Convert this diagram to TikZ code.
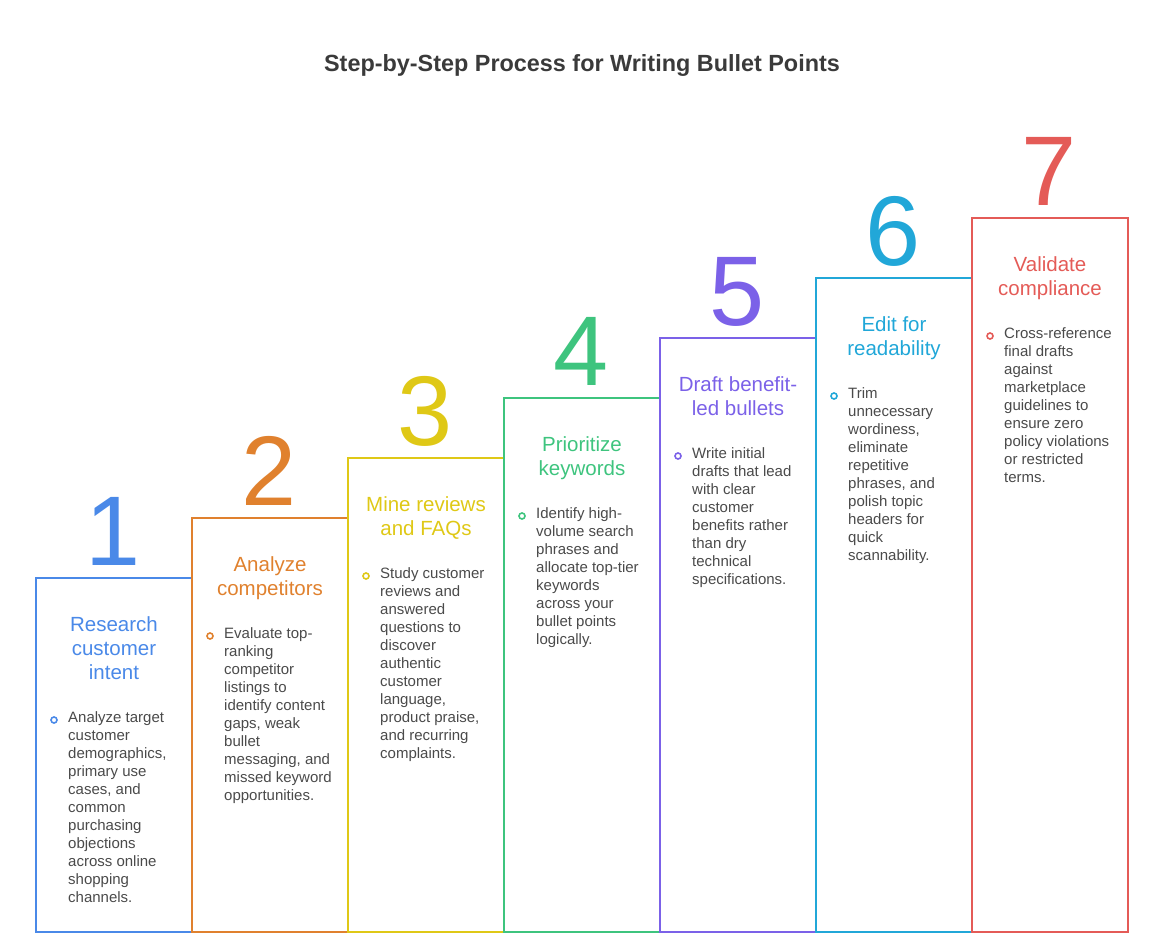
\documentclass[tikz,border=0pt]{standalone}
\usepackage{fontspec}
\setmainfont{Liberation Sans}
\definecolor{stepblue}{HTML}{4A89E8}
\definecolor{steporange}{HTML}{E0812E}
\definecolor{stepyellow}{HTML}{DFC816}
\definecolor{stepgreen}{HTML}{3EC47E}
\definecolor{steppurple}{HTML}{7B61E8}
\definecolor{stepcyan}{HTML}{21A7D8}
\definecolor{stepred}{HTML}{E45B57}
\definecolor{bodygray}{HTML}{4A4A4A}
\definecolor{titlegray}{HTML}{3A3A3A}
\begin{document}
\begin{tikzpicture}[x=1pt, y=-1pt,
    stepbox/.style={line width=2pt},
    stepnum/.style={anchor=base, inner sep=0pt, font=\fontsize{99}{99}\selectfont},
    stephead/.style={anchor=north, inner sep=0pt, align=center, font=\fontsize{20.5}{24}\selectfont},
    stepbody/.style={anchor=north west, inner sep=0pt, align=left, text=bodygray, font=\fontsize{15}{18}\selectfont},
    stepdot/.style={circle, draw, line width=1.6pt, minimum size=6pt, inner sep=0pt}]
\useasboundingbox (0,0) rectangle (1164,952);
\node[anchor=base, inner sep=0pt, text=titlegray, font=\fontsize{23.4}{28}\selectfont\bfseries] (title) at (582,72) {Step-by-Step Process for Writing Bullet Points};
% boxes and big numbers
\foreach \k/\col in {1/stepblue, 2/steporange, 3/stepyellow, 4/stepgreen, 5/steppurple, 6/stepcyan, 7/stepred} {
    \pgfmathsetmacro\bx{36+156*(\k-1)}
    \pgfmathsetmacro\by{578-60*(\k-1)}
    \draw[stepbox, draw=\col] (\bx,\by) rectangle ({\bx+156},932);
    \node[stepnum, text=\col] (num\k) at ({\bx+77},{\by-13}) {\k};
}
% step 1
\node[stephead, text=stepblue] (head1) at (114,616.5) {Research\\customer\\intent};
\node[stepbody] (body1) at (68,711) {Analyze target\\customer\\demographics,\\primary use\\cases, and\\common\\purchasing\\objections\\across online\\shopping\\channels.};
\node[stepdot, draw=stepblue] (dot1) at ([xshift=-14pt, yshift=-9pt]body1.north west) {};
% step 2
\node[stephead, text=steporange] (head2) at (270,556.5) {Analyze\\competitors};
\node[stepbody] (body2) at (224,627) {Evaluate top-\\ranking\\competitor\\listings to\\identify content\\gaps, weak\\bullet\\messaging, and\\missed keyword\\opportunities.};
\node[stepdot, draw=steporange] (dot2) at ([xshift=-14pt, yshift=-9pt]body2.north west) {};
% step 3
\node[stephead, text=stepyellow] (head3) at (426,496.5) {Mine reviews\\and FAQs};
\node[stepbody] (body3) at (380,567) {Study customer\\reviews and\\answered\\questions to\\discover\\authentic\\customer\\language,\\product praise,\\and recurring\\complaints.};
\node[stepdot, draw=stepyellow] (dot3) at ([xshift=-14pt, yshift=-9pt]body3.north west) {};
% step 4
\node[stephead, text=stepgreen] (head4) at (582,436.5) {Prioritize\\keywords};
\node[stepbody] (body4) at (536,507) {Identify high-\\volume search\\phrases and\\allocate top-tier\\keywords\\across your\\bullet points\\logically.};
\node[stepdot, draw=stepgreen] (dot4) at ([xshift=-14pt, yshift=-9pt]body4.north west) {};
% step 5
\node[stephead, text=steppurple] (head5) at (738,376.5) {Draft benefit-\\led bullets};
\node[stepbody] (body5) at (692,447) {Write initial\\drafts that lead\\with clear\\customer\\benefits rather\\than dry\\technical\\specifications.};
\node[stepdot, draw=steppurple] (dot5) at ([xshift=-14pt, yshift=-9pt]body5.north west) {};
% step 6
\node[stephead, text=stepcyan] (head6) at (894,316.5) {Edit for\\readability};
\node[stepbody] (body6) at (848,387) {Trim\\unnecessary\\wordiness,\\eliminate\\repetitive\\phrases, and\\polish topic\\headers for\\quick\\scannability.};
\node[stepdot, draw=stepcyan] (dot6) at ([xshift=-14pt, yshift=-9pt]body6.north west) {};
% step 7
\node[stephead, text=stepred] (head7) at (1050,256.5) {Validate\\compliance};
\node[stepbody] (body7) at (1004,327) {Cross-reference\\final drafts\\against\\marketplace\\guidelines to\\ensure zero\\policy violations\\or restricted\\terms.};
\node[stepdot, draw=stepred] (dot7) at ([xshift=-14pt, yshift=-9pt]body7.north west) {};
\end{tikzpicture}
\end{document}
